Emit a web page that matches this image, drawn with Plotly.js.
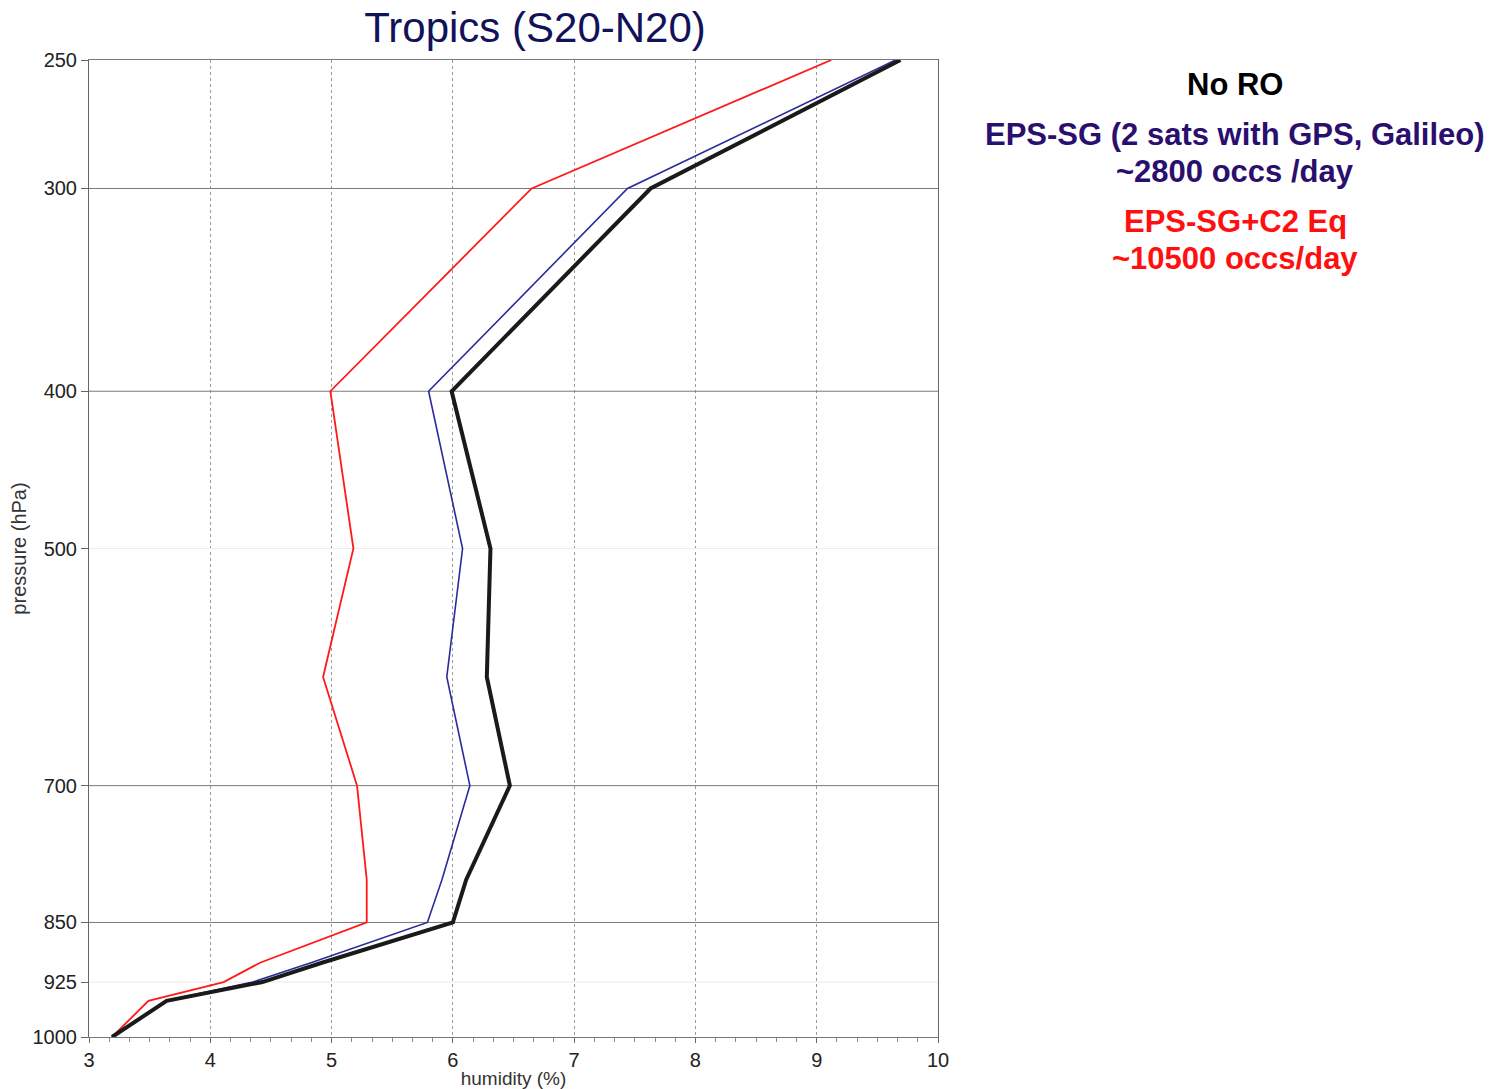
<!DOCTYPE html>
<html>
<head>
<meta charset="utf-8">
<script src="https://cdn.plot.ly/plotly-3.0.1.min.js"></script>
<style>
html,body{margin:0;padding:0;background:#fff;}
#chart{width:1494px;height:1089px;}
</style>
</head>
<body>
<div id="chart"></div>
<script>
// pressure levels (hPa)
const pressure = [250, 300, 400, 500, 600, 700, 800, 850, 900, 925, 950, 1000];
// humidity (%) per experiment
const noRO      = [9.69, 7.63, 5.99, 6.31, 6.28, 6.47, 6.11, 6.00, 4.92, 4.43, 3.64, 3.19];
const epsSG     = [9.65, 7.44, 5.80, 6.08, 5.95, 6.14, 5.91, 5.79, 4.83, 4.35, 3.63, 3.19];
const epsSGC2   = [9.12, 6.65, 4.99, 5.18, 4.93, 5.21, 5.29, 5.29, 4.41, 4.11, 3.49, 3.19];

const yTickVals = [250, 300, 400, 500, 700, 850, 925, 1000];
const yTickText = ['250', '300', '400', '500', '700', '850', '925', '1000'];
const darkGridLevels = [300, 400, 700, 850];
const faintGridLevels = [500, 925];
const xRange = [3, 10];
const xTickVals = [3, 4, 5, 6, 7, 8, 9, 10];

const legendLines = [
  {text: 'No RO', color: '#000000', y: 85},
  {text: 'EPS-SG (2 sats with GPS, Galileo)', color: '#2b0f6e', y: 134},
  {text: '~2800 occs /day', color: '#2b0f6e', y: 171},
  {text: 'EPS-SG+C2 Eq', color: '#ff1010', y: 221},
  {text: '~10500 occs/day', color: '#ff1010', y: 258}
];

const W = 1494, H = 1089;
const M = {l: 89, r: W - 938, t: 60, b: H - 1037};
const plotH = H - M.t - M.b, plotW = W - M.l - M.r;
const FONT = 'Liberation Sans, Arial, sans-serif';

// horizontal rules drawn as plain traces spanning the axis range
const rule = (p, color) => ({
  x: xRange, y: [p, p], mode: 'lines', hoverinfo: 'skip',
  line: {color: color, width: 1}
});
const gridTraces = faintGridLevels.map(p => rule(p, '#ececec'))
  .concat(darkGridLevels.map(p => rule(p, '#7a7a7a')));

const traces = gridTraces.concat([
  {x: epsSGC2, y: pressure, mode: 'lines', line: {color: '#ff1a1a', width: 1.8}, name: 'EPS-SG+C2 Eq'},
  {x: epsSG, y: pressure, mode: 'lines', line: {color: '#2a2a9c', width: 1.6}, name: 'EPS-SG'},
  {x: noRO, y: pressure, mode: 'lines', line: {color: '#1a1a1a', width: 4}, name: 'No RO'}
]);

const annotations = legendLines.map(l => ({
  text: '<b>' + l.text + '</b>', xref: 'paper', yref: 'paper',
  x: (1235 - M.l) / plotW, y: (1037 - l.y) / plotH,
  xanchor: 'center', yanchor: 'middle', showarrow: false,
  font: {family: FONT, size: 31, color: l.color}
}));

const layout = {
  width: W, height: H,
  margin: M,
  paper_bgcolor: '#ffffff', plot_bgcolor: '#ffffff',
  showlegend: false,
  title: {
    text: 'Tropics (S20-N20)',
    x: 535 / W, xanchor: 'center', y: 1 - 27 / H, yanchor: 'middle',
    font: {family: FONT, size: 42, color: '#12125a'}
  },
  xaxis: {
    range: xRange, tickvals: xTickVals, ticks: 'outside', ticklen: 5, tickcolor: '#666',
    showgrid: true, gridcolor: '#9a9a9a', griddash: 'dot', gridwidth: 1,
    minor: {dtick: 1 / 6, ticks: 'outside', ticklen: 4, tickcolor: '#888', showgrid: false},
    showline: true, linecolor: '#777', linewidth: 1, mirror: true, zeroline: false,
    tickfont: {family: FONT, size: 20, color: '#222'},
    title: {text: 'humidity (%)', standoff: 6,
      font: {family: FONT, size: 19, color: '#333'}}
  },
  yaxis: {
    type: 'log', range: [Math.log10(1000), Math.log10(250)],
    tickvals: yTickVals, ticktext: yTickText, ticks: 'outside', ticklen: 7, tickcolor: '#666',
    showgrid: false,
    showline: true, linecolor: '#666', linewidth: 1, mirror: true, zeroline: false,
    tickfont: {family: FONT, size: 20, color: '#222'},
    title: {text: 'pressure (hPa)', standoff: 0,
      font: {family: FONT, size: 20, color: '#333'}}
  },
  annotations: annotations
};

Plotly.newPlot('chart', traces, layout, {displayModeBar: false, staticPlot: true});
</script>
</body>
</html>
